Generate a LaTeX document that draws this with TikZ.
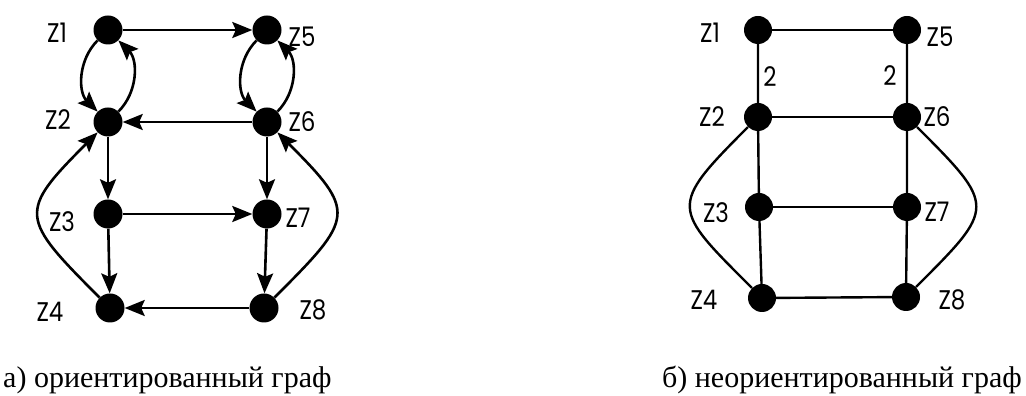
\documentclass[tikz,border=0pt]{standalone}
\usepackage{fontspec}
\setmainfont{Liberation Serif}
\newfontfamily\labfont[FakeStretch=0.85]{Poppins}
\usetikzlibrary{arrows.meta}
\begin{document}
\begin{tikzpicture}[x=1pt,y=1pt,
  vertex/.style={circle,fill=black,inner sep=0pt,minimum size=29pt},
  uvertex/.style={circle,fill=black,inner sep=0pt,minimum size=28pt},
  vlabel/.style={font=\labfont\fontsize{27}{27}\selectfont,inner sep=0pt},
  caption/.style={font=\fontsize{30}{30}\selectfont,inner sep=0pt},
  arc/.style={line width=2.6pt,-{Stealth[length=20pt,width=16pt,inset=3.5pt]}},
  edge/.style={line width=2.4pt}]
\useasboundingbox (0,0) rectangle (1026,396);

% directed graph
\node[vertex] (a1) at (108,366) {};
\node[vertex] (a5) at (267,366) {};
\node[vertex] (a2) at (108,274) {};
\node[vertex] (a6) at (267,274) {};
\node[vertex] (a3) at (108,182) {};
\node[vertex] (a7) at (267,182) {};
\node[vertex] (a4) at (110,88) {};
\node[vertex] (a8) at (264,88) {};

\node[vlabel] (la1) at (57,363) {Z1};
\node[vlabel] (la5) at (302,359) {Z5};
\node[vlabel] (la2) at (58,276) {Z2};
\node[vlabel] (la6) at (302,274) {Z6};
\node[vlabel] (la3) at (62,174) {Z3};
\node[vlabel] (la7) at (298,178) {Z7};
\node[vlabel] (la4) at (50,84) {Z4};
\node[vlabel] (la8) at (313,86) {Z8};

\draw[arc] (a1) -- (a5);
\draw[arc] (a6) -- (a2);
\draw[arc] (a3) -- (a7);
\draw[arc] (a8) -- (a4);
\draw[arc] (a2) -- (a3);
\draw[arc] (a3) -- (a4);
\draw[arc] (a6) -- (a7);
\draw[arc] (a7) -- (a8);
\draw[arc] (a1) to[bend right=45] (a2);
\draw[arc] (a2) to[bend right=45] (a1);
\draw[arc] (a5) to[bend right=45] (a6);
\draw[arc] (a6) to[bend right=45] (a5);
\draw[arc] (a4) to[out=135,in=225,looseness=1.75] (a2);
\draw[arc] (a8) to[out=45,in=315,looseness=1.75] (a6);

% undirected graph
\node[uvertex] (b1) at (758,366) {};
\node[uvertex] (b5) at (907,366) {};
\node[uvertex] (b2) at (758,279) {};
\node[uvertex] (b6) at (907,279) {};
\node[uvertex] (b3) at (759,189) {};
\node[uvertex] (b7) at (907,189) {};
\node[uvertex] (b4) at (762,98) {};
\node[uvertex] (b8) at (906,99) {};

\node[vlabel] (lb1) at (710,363) {Z1};
\node[vlabel] (lb5) at (940,359) {Z5};
\node[vlabel] (lb2) at (712,279) {Z2};
\node[vlabel] (lb6) at (937,279) {Z6};
\node[vlabel] (lb3) at (716,183) {Z3};
\node[vlabel] (lb7) at (937,184) {Z7};
\node[vlabel] (lb4) at (704,96) {Z4};
\node[vlabel] (lb8) at (952,96) {Z8};
\node[vlabel] (w12) at (770,319) {2};
\node[vlabel] (w56) at (890,320) {2};

\draw[edge] (b1) -- (b5);
\draw[edge] (b2) -- (b6);
\draw[edge] (b3) -- (b7);
\draw[edge] (b4) -- (b8);
\draw[edge] (b1) -- (b2) -- (b3) -- (b4);
\draw[edge] (b5) -- (b6) -- (b7) -- (b8);
\draw[edge] (b2) to[out=225,in=135,looseness=1.8] (b4);
\draw[edge] (b6) to[out=315,in=45,looseness=1.8] (b8);

% captions
\node[caption,anchor=base west] (ca) at (3,8) {а) ориентированный граф};
\node[caption,anchor=base east] (cb) at (1022,8) {б) неориентированный граф};
\end{tikzpicture}
\end{document}
